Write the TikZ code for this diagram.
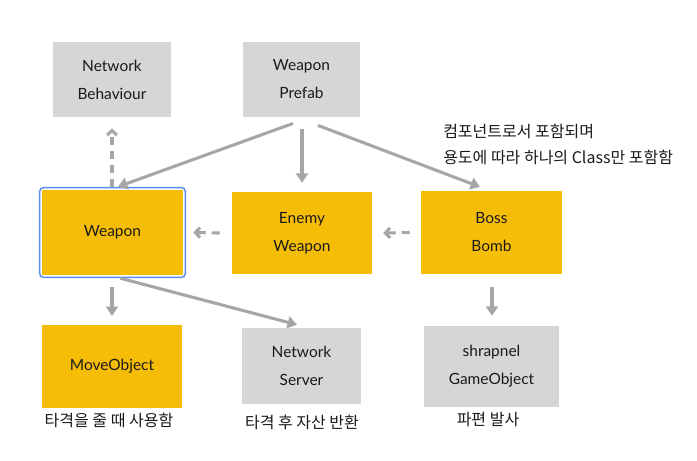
\documentclass[tikz,border=0pt]{standalone}
\usepackage{fontspec}
\setmainfont{Lato}
\newfontfamily\kofont{Noto Sans CJK KR}
\usepackage{xcolor}
\usepackage{tikz}
\usetikzlibrary{arrows.meta, positioning, calc}
\definecolor{compyellow}{HTML}{F6BD06}
\definecolor{unitygray}{HTML}{D6D6D6}
\definecolor{linkgray}{HTML}{A6A6A6}
\definecolor{selblue}{HTML}{5B8CEE}
\definecolor{labeltext}{HTML}{1A1A1A}
\tikzset{
    comp/.style={
        rectangle,
        fill=compyellow,
        minimum width=105pt,
        minimum height=62pt,
        inner sep=0pt,
        align=center,
        text=labeltext,
        font=\fontsize{11.6}{21}\selectfont
    },
    unity/.style={
        comp,
        fill=unitygray,
        minimum width=88.5pt,
        minimum height=56.5pt
    },
    link/.style={
        draw=linkgray,
        line width=2.3pt,
        -{Triangle[length=7pt,width=9pt]}
    },
    weaklink/.style={
        draw=linkgray,
        line width=2.3pt,
        dash pattern=on 6pt off 4.5pt,
        -{Straight Barb[length=3.5pt,width=7.5pt]}
    },
    selframe/.style={
        draw=selblue,
        line width=1.1pt,
        rounded corners=3pt
    },
    note/.style={
        font=\kofont\fontsize{12}{19.5}\selectfont,
        text=labeltext,
        align=left,
        inner sep=0pt
    }
}

\begin{document}
\begin{tikzpicture}[x=0.75pt, y=-0.75pt]
\useasboundingbox (0,0) rectangle (697,461);

% Top row
\node[unity] (netbehav) at (112,79.5) {Network\\Behaviour};
\node[unity, minimum width=87.75pt] (wprefab) at (301.5,79.5) {Weapon\\Prefab};

% Middle row
\node[comp, minimum width=105.75pt, minimum height=63.75pt] (weapon) at (112.5,232.5) {Weapon};
\draw[selframe] ([shift={(-1.6pt,1.6pt)}]weapon.north west) rectangle ([shift={(1.6pt,-1.6pt)}]weapon.south east);
\node[comp, minimum height=61.5pt] (enemyw) at (302,233) {Enemy\\Weapon};
\node[comp, minimum width=105.75pt] (bossbomb) at (491.5,232.5) {Boss\\Bomb};

% Bottom row
\node[comp] (moveobj) at (112,366.5) {MoveObject};
\node[unity, minimum width=89.25pt, minimum height=57pt] (netserver) at (301.5,366) {Network\\Server};
\node[unity, minimum width=101.25pt, minimum height=60.75pt] (shrapnel) at (491.5,366.5) {shrapnel\\GameObject};

% Notes
\node[note, anchor=west] (compnote) at (443,144) {컴포넌트로서 포함되며\\용도에 따라 하나의 Class만 포함함};
\node[note] (moveobj_note) at (109,420) {타격을 줄 때 사용함};
\node[note] (netserver_note) at (302,422) {타격 후 자산 반환};
\node[note] (shrapnel_note) at (488,420) {파편 발사};

% Connections
\draw[link] ($(wprefab.south)+(-8.5,6)$) -- ($(weapon.north)+(5.5,-3)$);
\draw[link] ($(wprefab.south)+(0.5,12)$) -- ($(enemyw.north)+(0,-9)$);
\draw[link] ($(wprefab.south)+(16.5,8)$) -- ($(bossbomb.north)+(-11.5,-4)$);
\draw[link] ($(weapon.south)+(-0.5,12)$) -- ($(moveobj.north)+(0,-9)$);
\draw[link] ($(weapon.south)+(8,3)$) -- ($(netserver.north)+(-4.5,-3)$);
\draw[link] ($(bossbomb.south)+(0.5,13)$) -- ($(shrapnel.north)+(0.5,-10)$);

% Inheritance
\draw[weaklink] ($(weapon.north)+(-0.5,-3)$) -- ($(netbehav.south)+(0,11)$);
\draw[weaklink] ($(enemyw.west)+(-12,0)$) -- ($(weapon.east)+(10,0)$);
\draw[weaklink] ($(bossbomb.west)+(-11,0)$) -- ($(enemyw.east)+(11,0)$);

\end{tikzpicture}
\end{document}
